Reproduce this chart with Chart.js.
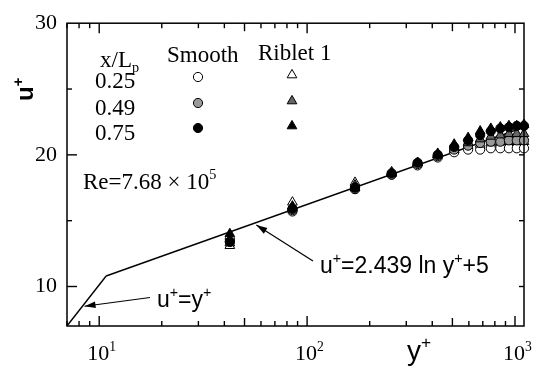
<!DOCTYPE html>
<html><head><meta charset="utf-8">
<script src="https://cdn.jsdelivr.net/npm/chart.js@4/dist/chart.umd.min.js"></script>
<style>html,body{margin:0;padding:0;background:#fff}</style>
</head><body>
<canvas id="c" width="538" height="374"></canvas>
<script>
// ---- data ----
const yPlus      = [42.5, 85, 170, 255, 340, 425, 510, 595, 680, 765, 850, 935, 1020, 1105];
const smooth025  = [13.6, 15.7, 17.4, 18.5, 19.2, 19.8, 20.2, 20.4, 20.4, 20.5, 20.5, 20.5, 20.5, 20.5];
const smooth049  = [13.4, 15.8, 17.4, 18.5, 19.3, 19.9, 20.4, 20.7, 20.9, 21.0, 21.0, 21.1, 21.1, 21.1];
const smooth075  = [13.4, 15.9, 17.5, 18.6, 19.4, 20.0, 20.6, 21.1, 21.5, 21.8, 22.0, 22.1, 22.2, 22.2];
const riblet025  = [13.1, 16.4, 17.9, 18.7, 19.4, 20.0, 20.4, 20.7, 20.8, 20.9, 21.0, 21.0, 21.0, 21.0];
const riblet049  = [13.3, 16.1, 17.7, 18.6, 19.4, 20.0, 20.6, 20.9, 21.2, 21.4, 21.5, 21.6, 21.6, 21.6];
const riblet075  = [14.0, 16.0, 17.5, 18.6, 19.4, 20.1, 20.8, 21.3, 21.8, 22.0, 22.1, 22.2, 22.2, 22.3];
const viscousX   = [7, 10.8];
const viscousU   = [7, 10.8];
const logLawX    = [10.8, 1105];
const logLawU    = [10.8, 22.1];
const xTickValues = [10, 100, 1000];
const xTickLabels = ['10', '10', '10'];
const xTickPowers = ['1', '2', '3'];
const yTickValues = [10, 20, 30];
const yTickLabels = ['10', '20', '30'];
const stations    = ['0.25', '0.49', '0.75'];

const SERIF = "'Liberation Serif', 'Times New Roman', serif";
const SANS  = "'Liberation Sans', Arial, sans-serif";

function pts(xs, ys) { return xs.map((x, i) => ({x: x, y: ys[i]})); }

function markerDs(label, ys, style, fill, r) {
  return { type: 'scatter', label: label, data: pts(yPlus, ys), pointStyle: style,
           pointRadius: r, pointHoverRadius: r, pointBackgroundColor: fill,
           pointBorderColor: '#000', pointBorderWidth: 1, showLine: false, clip: false };
}

const datasets = [
  markerDs('Smooth 0.75', smooth075, 'circle', '#000', 4.6),
  markerDs('Riblet 0.75', riblet075, 'triangle', '#000', 5.6),
  markerDs('Riblet 0.49', riblet049, 'triangle', '#666', 5.6),
  markerDs('Smooth 0.49', smooth049, 'circle', '#999', 4.6),
  markerDs('Riblet 0.25', riblet025, 'triangle', '#fff', 5.6),
  markerDs('Smooth 0.25', smooth025, 'circle', '#fff', 4.6),
  { type: 'line', label: 'u+=y+', data: pts(viscousX, viscousU), borderColor: '#000',
    borderWidth: 1.4, pointRadius: 0, fill: false, tension: 0 },
  { type: 'line', label: 'log law', data: pts(logLawX, logLawU), borderColor: '#000',
    borderWidth: 1.4, pointRadius: 0, fill: false, tension: 0 }
];

function drawRuns(ctx, runs, x, y, size, family, weight) {
  let cx = x;
  ctx.textAlign = 'left'; ctx.textBaseline = 'alphabetic';
  for (const [t, m] of runs) {
    const fs = m ? size * 0.62 : size;
    ctx.font = (weight || '') + ' ' + fs + 'px ' + family;
    const dy = m === 1 ? -size * 0.42 : (m === -1 ? size * 0.22 : 0);
    ctx.fillText(t, cx, y + dy);
    cx += ctx.measureText(t).width;
  }
  return cx;
}

function seg(ctx, x1, y1, x2, y2) {
  ctx.beginPath(); ctx.moveTo(x1, y1); ctx.lineTo(x2, y2); ctx.stroke();
}

function arrow(ctx, x1, y1, x2, y2) {
  seg(ctx, x1, y1, x2, y2);
  const a = Math.atan2(y2 - y1, x2 - x1), L = 11, W = 3.3;
  ctx.beginPath();
  ctx.moveTo(x2, y2);
  ctx.lineTo(x2 - L * Math.cos(a) + W * Math.sin(a), y2 - L * Math.sin(a) - W * Math.cos(a));
  ctx.lineTo(x2 - L * Math.cos(a) - W * Math.sin(a), y2 - L * Math.sin(a) + W * Math.cos(a));
  ctx.closePath(); ctx.fill();
}

function marker(ctx, style, x, y, r, fill) {
  ctx.beginPath();
  if (style === 'circle') {
    ctx.arc(x, y, r, 0, Math.PI * 2);
  } else {
    for (let k = 0; k < 3; k++) {
      const ang = -Math.PI / 2 + k * 2 * Math.PI / 3;
      const px = x + r * Math.cos(ang), py = y + r * Math.sin(ang);
      if (k === 0) ctx.moveTo(px, py); else ctx.lineTo(px, py);
    }
    ctx.closePath();
  }
  ctx.fillStyle = fill; ctx.fill();
  ctx.lineWidth = 1; ctx.strokeStyle = '#000'; ctx.stroke();
}

const decor = {
  id: 'decor',
  afterDraw(chart) {
    const ctx = chart.ctx, xs = chart.scales.x, ys = chart.scales.y, area = chart.chartArea;
    const L = area.left, R = area.right, T = area.top, B = area.bottom;
    ctx.save();
    ctx.setLineDash([]);
    ctx.strokeStyle = '#000'; ctx.fillStyle = '#000'; ctx.lineWidth = 1.5;
    ctx.strokeRect(L, T, R - L, B - T);
    // x ticks (bottom and top, inward)
    ctx.lineWidth = 1.4;
    for (let d = 0; d <= 3; d++) {
      for (let k = 1; k <= 9; k++) {
        const v = k * Math.pow(10, d);
        if (v < 7 || v > 1105) continue;
        const px = xs.getPixelForValue(v);
        const len = k === 1 ? 10 : (k === 5 ? 8 : 5);
        seg(ctx, px, B, px, B - len);
        seg(ctx, px, T, px, T + len);
      }
    }
    // y ticks
    [10, 15, 20, 25].forEach(v => {
      const py = ys.getPixelForValue(v);
      const len = v % 10 === 0 ? 10 : 5;
      seg(ctx, L, py, L + len, py);
      seg(ctx, R, py, R - 5, py);
    });
    // x tick labels (positions from the scale)
    xTickValues.forEach((v, i) => {
      const px = xs.getPixelForValue(v);
      ctx.font = '22px ' + SERIF;
      const w = ctx.measureText(xTickLabels[i]).width;
      drawRuns(ctx, [[xTickLabels[i], 0], [xTickPowers[i], 1]], px - w / 2 - 1, 360, 22, SERIF, '');
    });
    ctx.fillStyle = '#000';
    // axis titles
    ctx.save();
    ctx.translate(33, 101); ctx.rotate(-Math.PI / 2);
    drawRuns(ctx, [['u', 0], ['+', 1]], 0, 0, 24, SANS, 'bold');
    ctx.restore();
    drawRuns(ctx, [['y', 0], ['+', 1]], 407, 360, 28, SANS, '');
    // legend
    drawRuns(ctx, [['x/L', 0], ['p', -1]], 100, 67, 23, SERIF, '');
    drawRuns(ctx, [['Smooth', 0]], 167, 62, 23, SERIF, '');
    drawRuns(ctx, [['Riblet 1', 0]], 258, 60, 23, SERIF, '');
    const rowsY = [88, 115, 140];
    const mY = [77, 103, 128];
    const fills = [['#fff', '#fff'], ['#999', '#666'], ['#000', '#000']];
    for (let i = 0; i < 3; i++) {
      ctx.fillStyle = '#000';
      drawRuns(ctx, [[stations[i], 0]], 95, rowsY[i], 23, SERIF, '');
      marker(ctx, 'circle', 198, mY[i], 4.6, fills[i][0]);
      marker(ctx, 'triangle', 292, mY[i] - 2, 5.6, fills[i][1]);
    }
    ctx.fillStyle = '#000'; ctx.strokeStyle = '#000'; ctx.lineWidth = 1.2;
    // Re
    drawRuns(ctx, [['Re=7.68', 0], [' \u00D7 ', 0], ['10', 0], ['5', 1]], 83, 189, 23, SERIF, '');
    // annotations
    drawRuns(ctx, [['u', 0], ['+', 1], ['=y', 0], ['+', 1]], 157, 307, 23, SANS, '');
    drawRuns(ctx, [['u', 0], ['+', 1], ['=2.439 ln y', 0], ['+', 1], ['+5', 0]], 320, 273, 23, SANS, '');
    arrow(ctx, 150, 297.5, xs.getPixelForValue(8.5), ys.getPixelForValue(8.5));
    arrow(ctx, 313, 261, xs.getPixelForValue(57), ys.getPixelForValue(14.75) + 1);
    ctx.restore();
  }
};

new Chart(document.getElementById('c'), {
  type: 'scatter',
  data: { datasets: datasets },
  options: {
    responsive: false, animation: false, devicePixelRatio: 1,
    layout: { padding: { top: 20, right: 14, left: 0, bottom: 0 } },
    plugins: { legend: { display: false }, tooltip: { enabled: false } },
    scales: {
      x: {
        type: 'logarithmic', min: 7, max: 1105,
        grid: { display: false, drawTicks: false }, border: { display: false },
        afterBuildTicks: s => { s.ticks = xTickValues.map(v => ({ value: v })); },
        afterFit: s => { s.height = 48; },
        ticks: { display: false }
      },
      y: {
        type: 'linear', min: 7, max: 30,
        grid: { display: false, drawTicks: false }, border: { display: false },
        afterBuildTicks: s => { s.ticks = yTickValues.map(v => ({ value: v })); },
        afterFit: s => { s.width = 67; },
        ticks: { padding: 10, color: '#000', font: { family: SERIF, size: 22 },
                 callback: v => { const i = yTickValues.indexOf(v); return i >= 0 ? yTickLabels[i] : ''; } }
      }
    }
  },
  plugins: [decor]
});
</script>
</body></html>
